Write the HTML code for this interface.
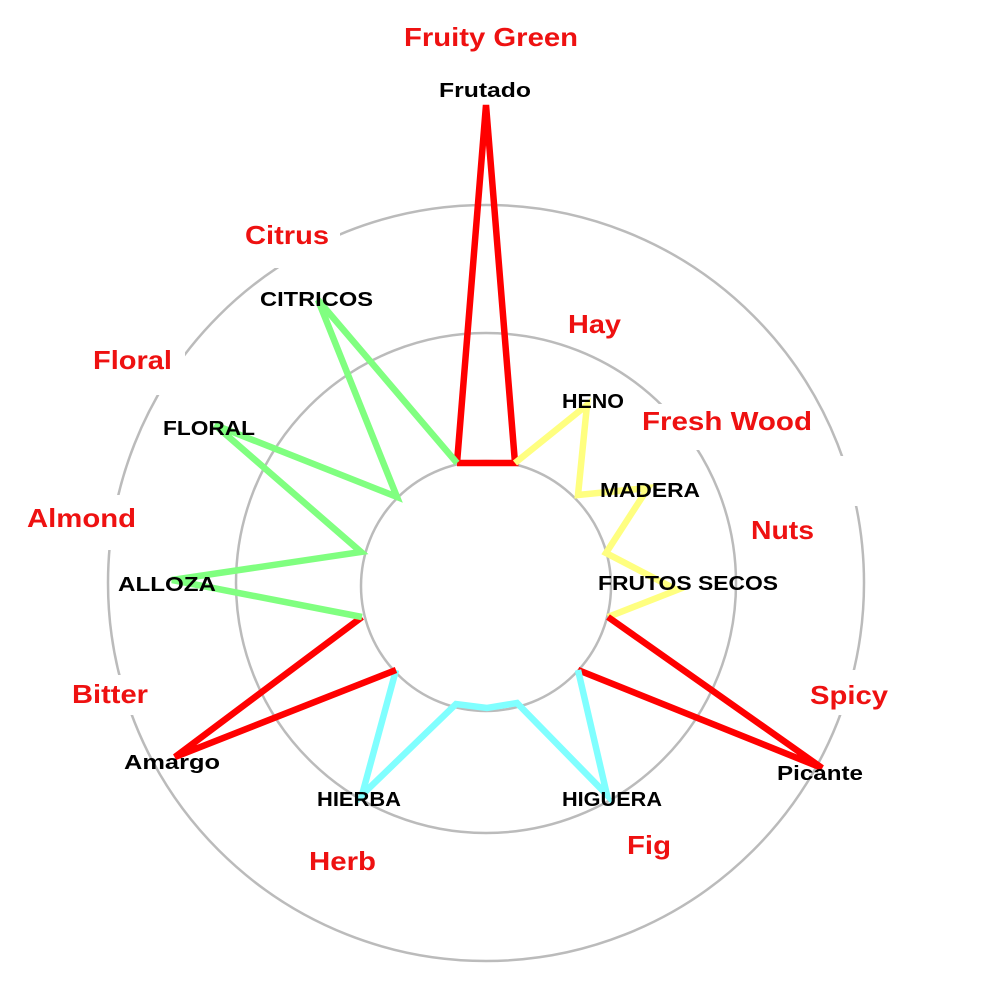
<!DOCTYPE html>
<html><head><style>html,body{margin:0;padding:0;background:#fff;width:1000px;height:1000px;overflow:hidden}</style></head>
<body>
<svg width="1000" height="1000" xmlns="http://www.w3.org/2000/svg" font-family="Liberation Sans, Arial, sans-serif" font-weight="bold">
<g fill="none" stroke="#bbb" stroke-width="2.5">
<circle cx="486" cy="583" r="378"/>
<circle cx="486" cy="583" r="250"/>
<circle cx="486" cy="586" r="125"/>
</g>
<g fill="#fff">
<rect x="640" y="404" width="175" height="46"/>
<rect x="820" y="456" width="60" height="50"/>
<rect x="800" y="670" width="80" height="45"/>
<rect x="25" y="495" width="120" height="55"/>
<rect x="85" y="345" width="100" height="50"/>
<rect x="240" y="218" width="100" height="50"/>
<rect x="60" y="675" width="100" height="40"/>
</g>
<g fill="none" stroke-width="6.5" stroke-linejoin="miter">
<polyline stroke="#ff0000" points="457,463 486,105 515,463 457,463"/>
<polyline stroke="#ffff80" points="515,463 587,405 578,495 648,488 606,553 677,590 608,617"/>
<polyline stroke="#ff0000" points="608,617 822,768 578,670"/>
<polyline stroke="#80ffff" points="578,670 607,795 517,703 487,708 456,704 362,795 396,670"/>
<polyline stroke="#ff0000" points="396,670 175,757 362,617"/>
<polyline stroke="#80ff80" points="362,617 172,580 361,552 215,425 397,497 318,300 457,463"/>
</g>
<g fill="#000" font-size="20" lengthAdjust="spacingAndGlyphs">
<text x="439" y="97" textLength="92" lengthAdjust="spacingAndGlyphs">Frutado</text>
<text x="260" y="306" textLength="113" lengthAdjust="spacingAndGlyphs">CITRICOS</text>
<text x="163" y="435" textLength="92" lengthAdjust="spacingAndGlyphs">FLORAL</text>
<text x="118" y="591" textLength="98" lengthAdjust="spacingAndGlyphs">ALLOZA</text>
<text x="124" y="769" textLength="96" lengthAdjust="spacingAndGlyphs">Amargo</text>
<text x="317" y="806" textLength="84" lengthAdjust="spacingAndGlyphs">HIERBA</text>
<text x="562" y="806" textLength="100" lengthAdjust="spacingAndGlyphs">HIGUERA</text>
<text x="777" y="780" textLength="86" lengthAdjust="spacingAndGlyphs">Picante</text>
<text x="598" y="590" textLength="180" lengthAdjust="spacingAndGlyphs">FRUTOS SECOS</text>
<text x="600" y="497" textLength="100" lengthAdjust="spacingAndGlyphs">MADERA</text>
<text x="562" y="408" textLength="62" lengthAdjust="spacingAndGlyphs">HENO</text>
</g>
<g fill="#ee1111" font-size="26">
<text x="404" y="46" textLength="174" lengthAdjust="spacingAndGlyphs">Fruity Green</text>
<text x="245" y="244" textLength="84" lengthAdjust="spacingAndGlyphs">Citrus</text>
<text x="93" y="369" textLength="79" lengthAdjust="spacingAndGlyphs">Floral</text>
<text x="27" y="527" textLength="109" lengthAdjust="spacingAndGlyphs">Almond</text>
<text x="72" y="703" textLength="76" lengthAdjust="spacingAndGlyphs">Bitter</text>
<text x="309" y="870" textLength="67" lengthAdjust="spacingAndGlyphs">Herb</text>
<text x="627" y="854" textLength="44" lengthAdjust="spacingAndGlyphs">Fig</text>
<text x="810" y="704" textLength="78" lengthAdjust="spacingAndGlyphs">Spicy</text>
<text x="751" y="539" textLength="63" lengthAdjust="spacingAndGlyphs">Nuts</text>
<text x="642" y="430" textLength="170" lengthAdjust="spacingAndGlyphs">Fresh Wood</text>
<text x="568" y="333" textLength="53" lengthAdjust="spacingAndGlyphs">Hay</text>
</g>
</svg>
</body></html>
